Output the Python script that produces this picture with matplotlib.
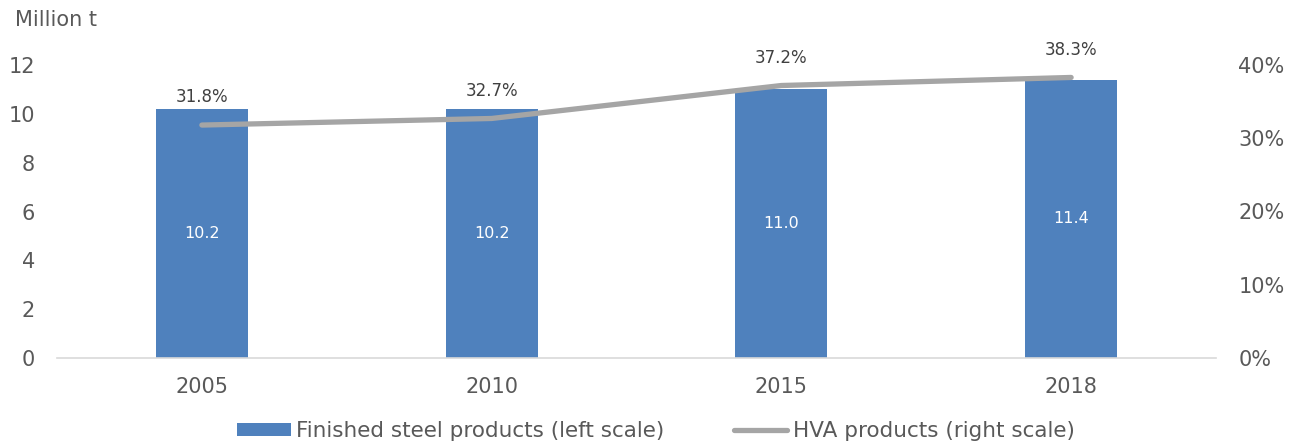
import matplotlib
matplotlib.use("Agg")
import matplotlib.pyplot as plt
from matplotlib.lines import Line2D
from matplotlib.patches import Patch

plt.rcParams["font.family"] = ["DejaVu Sans"]

years = ["2005", "2010", "2015", "2018"]
steel = [10.2, 10.2, 11.0, 11.4]
hva_share = [31.8, 32.7, 37.2, 38.3]
left_ticks = [0, 2, 4, 6, 8, 10, 12]
right_ticks = [0, 10, 20, 30, 40]

bar_color = "#4F81BD"
line_color = "#A5A5A5"
tick_color = "#595959"
label_color = "#404040"

W, H = 1291, 442
fig = plt.figure(figsize=(W / 100, H / 100), dpi=100)
ax = fig.add_axes([57 / W, (H - 358) / H, (1216 - 57) / W, (358 - 65) / H])
ax2 = ax.twinx()

x = list(range(len(years)))
bars = ax.bar(x, steel, width=0.317, color=bar_color, zorder=2)
ax.set_xlim(-0.5, len(years) - 0.5)
ax.set_ylim(0, 12)
ax.set_yticks(left_ticks)
ax.set_xticks(x)
ax.set_xticklabels(years)

for xi, v in zip(x, steel):
    ax.text(xi, v / 2, f"{v:.1f}", ha="center", va="center", color="white",
            fontsize=11.5)

ax2.plot(x, hva_share, color=line_color, lw=3.8, solid_capstyle="round", zorder=3)
ax2.set_ylim(0, 40)
ax2.set_yticks(right_ticks)
ax2.set_yticklabels([f"{t}%" for t in right_ticks])
for xi, v in zip(x, hva_share):
    ax2.annotate(f"{v:.1f}%", (xi, v), xytext=(0, 20), textcoords="offset points",
                 ha="center", va="center", color=label_color, fontsize=12,
                 annotation_clip=False)

for a in (ax, ax2):
    for s in a.spines.values():
        s.set_visible(False)
    a.tick_params(length=0, labelsize=15, colors=tick_color)
ax.spines["bottom"].set_visible(True)
ax.spines["bottom"].set_color("#D9D9D9")
ax.spines["bottom"].set_linewidth(1.2)
ax.tick_params(axis="y", pad=16)
ax2.tick_params(axis="y", pad=16)
ax.tick_params(axis="x", pad=14)

fig.text(15 / W, 1 - 20 / H, "Million t", ha="left", va="center", fontsize=15,
         color=tick_color)

handles = [Patch(facecolor=bar_color, edgecolor="none"),
           Line2D([0], [0], color=line_color, lw=3.8, solid_capstyle="round")]
labels = ["Finished steel products (left scale)", "HVA products (right scale)"]
leg = fig.legend(handles, labels, loc="center", bbox_to_anchor=(656 / W, 1 - 431 / H),
                 ncol=2, frameon=False, handlelength=2.5,
                 handleheight=0.55, handletextpad=0.25, columnspacing=3.2,
                 prop={"size": 15.5})
for t in leg.get_texts():
    t.set_color(tick_color)

fig.savefig("out.png", dpi=100)
